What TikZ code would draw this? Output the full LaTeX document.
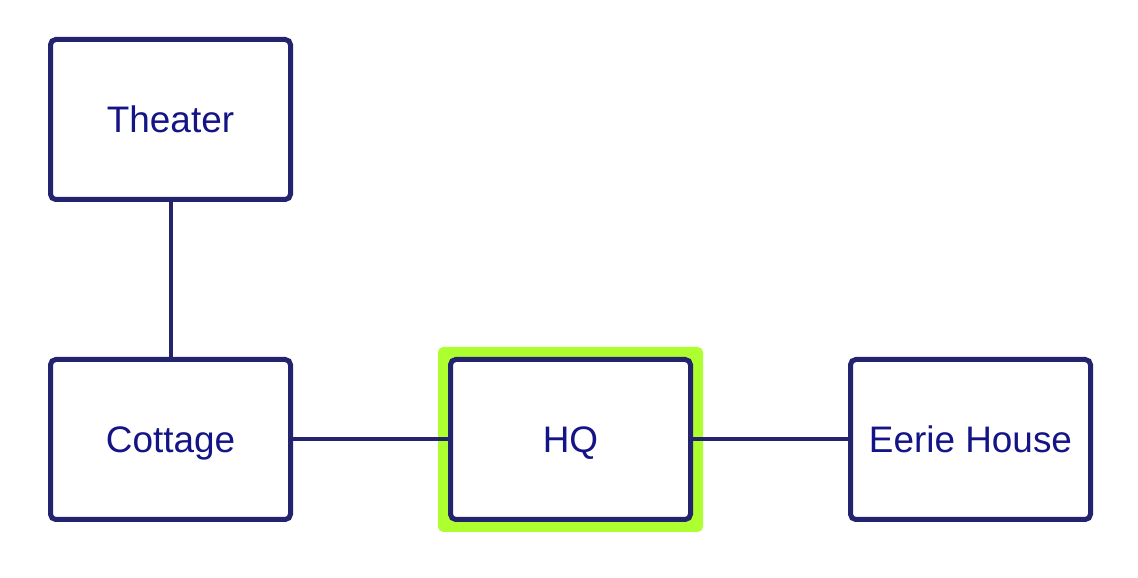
\documentclass[tikz,border=0pt]{standalone}
\usepackage{fontspec}
\setmainfont{Liberation Sans}
\definecolor{boxline}{RGB}{35,35,110}
\definecolor{boxtext}{RGB}{20,20,135}
\definecolor{hqglow}{RGB}{173,255,47}

\begin{document}
\begin{tikzpicture}[
	place/.style={draw=boxline, line width=0.1cm, rounded corners=3pt, fill=white,
		minimum width=4.8cm, minimum height=3.2cm, inner sep=0pt,
		text height=15pt, text depth=0pt,
		text=boxtext, font=\fontsize{21}{25}\selectfont},
	glow/.style={fill=hqglow, rounded corners=3pt, minimum width=5.3cm, minimum height=3.7cm, inner sep=0pt},
	link/.style={draw=boxline, line width=0.08cm}]
	\useasboundingbox (0,0) rectangle (22.76,11.56);
	\node[glow] (hqglow) at (11.41,2.77) {};
	\node[place] (theater) at (3.41,9.17) {Theater};
	\node[place] (cottage) at (3.41,2.77) {Cottage};
	\node[place] (hq) at (11.41,2.77) {HQ};
	\node[place] (eerie) at (19.41,2.77) {Eerie House};
	\draw[link] (theater) -- (cottage);
	\draw[link] (cottage) -- (hq);
	\draw[link] (hq) -- (eerie);
\end{tikzpicture}
\end{document}
